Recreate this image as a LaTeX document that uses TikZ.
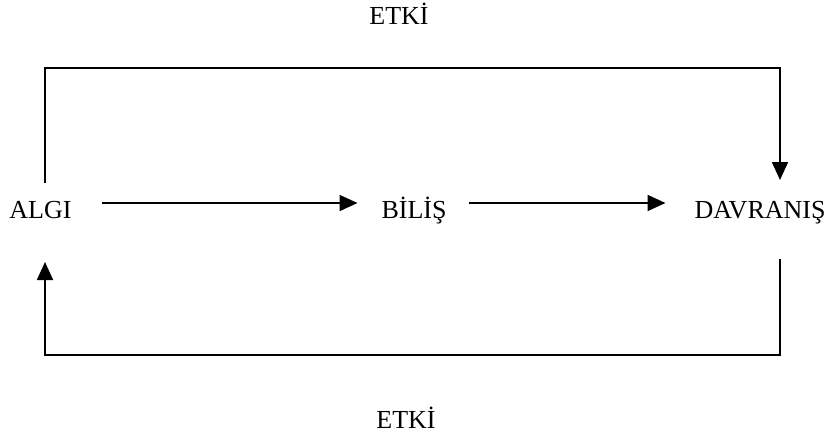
\documentclass[tikz,border=0pt]{standalone}
\usepackage{fontspec}
\setmainfont{Liberation Serif}
\usetikzlibrary{arrows.meta}
\tikzset{
  lbl/.style={inner sep=0pt, outer sep=0pt, anchor=base, text height=17pt, text depth=0pt, font=\fontsize{26}{31}\selectfont},
  conn/.style={line width=1.8pt, line join=miter},
  arr/.style={conn, -{Triangle[length=18pt,width=16pt]}}
}
\begin{document}
\begin{tikzpicture}[x=1pt,y=-1pt]
\useasboundingbox (0,0) rectangle (832,436);
\node[lbl] (algi) at (40.5,218) {ALGI};
\node[lbl] (bilis) at (414,218) {BİLİŞ};
\node[lbl] (davranis) at (760,218) {DAVRANIŞ};
\node[lbl] (etki1) at (399,25) {ETKİ};
\node[lbl] (etki2) at (406,428) {ETKİ};
\coordinate (tl) at (45,68);
\coordinate (tr) at (780,68);
\coordinate (bl) at (45,355);
\coordinate (br) at (780,355);
\draw[arr, shorten <=30pt, shorten >=24pt] ([yshift=6.5pt]algi.east) -- ([yshift=6.5pt]bilis.west);
\draw[arr, shorten <=22pt, shorten >=29pt] ([yshift=6.5pt]bilis.east) -- ([yshift=6.5pt]davranis.west);
\draw[arr] ([yshift=18pt]algi.north -| tl) -- (tl) -- (tr) -- ([yshift=21pt]davranis.north -| tr);
\draw[arr] ([yshift=-41pt]davranis.south -| br) -- (br) -- (bl) -- ([yshift=-44pt]algi.south -| bl);
\end{tikzpicture}
\end{document}
